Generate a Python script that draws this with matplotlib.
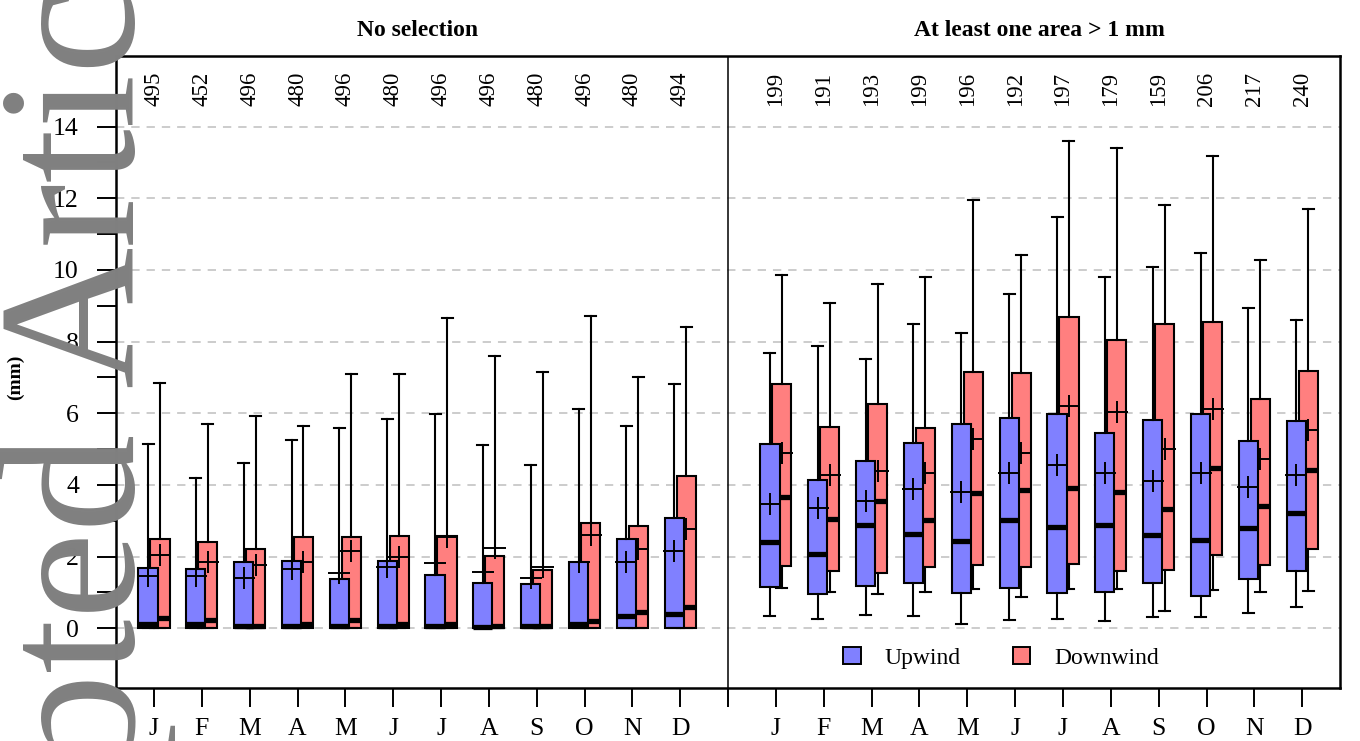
import matplotlib
matplotlib.use("Agg")
import matplotlib.pyplot as plt
from matplotlib.patches import Patch
import numpy as np

plt.rcParams['font.family'] = ['Liberation Serif', 'DejaVu Serif']
plt.rcParams['lines.scale_dashes'] = False

months = ['J', 'F', 'M', 'A', 'M', 'J', 'J', 'A', 'S', 'O', 'N', 'D']
panel_titles = ['No selection', 'At least one area > 1 mm']

# sample counts per month
n_all = [495, 452, 496, 480, 496, 480, 496, 496, 480, 496, 480, 494]
n_sel = [199, 191, 193, 199, 196, 192, 197, 179, 159, 206, 217, 240]

# --- panel 1: no selection (lower quartile and lower whisker are 0) ---
up_all_med = [0.12, 0.12, 0.06, 0.06, 0.06, 0.06, 0.05, 0.04, 0.05, 0.13, 0.33, 0.39]
up_all_q3 = [1.69, 1.64, 1.84, 1.88, 1.37, 1.88, 1.48, 1.27, 1.22, 1.84, 2.48, 3.08]
up_all_mean = [1.45, 1.45, 1.41, 1.64, 1.53, 1.72, 1.83, 1.58, 1.40, 1.85, 1.84, 2.14]
up_all_hi = [5.14, 4.20, 4.62, 5.25, 5.58, 5.85, 5.99, 5.12, 4.56, 6.13, 5.64, 6.81]

dn_all_med = [0.27, 0.22, 0.06, 0.12, 0.22, 0.12, 0.11, 0.06, 0.06, 0.20, 0.46, 0.59]
dn_all_q3 = [2.48, 2.40, 2.20, 2.55, 2.55, 2.57, 2.58, 2.02, 1.62, 2.93, 2.86, 4.25]
dn_all_mean = [2.03, 1.84, 1.75, 1.84, 2.15, 2.00, 2.55, 2.24, 1.71, 2.60, 2.20, 2.76]
dn_all_hi = [6.83, 5.71, 5.93, 5.64, 7.09, 7.10, 8.66, 7.59, 7.14, 8.72, 7.01, 8.41]

# --- panel 2: at least one area > 1 mm ---
up_sel_lo = [0.33, 0.25, 0.37, 0.34, 0.11, 0.24, 0.26, 0.20, 0.30, 0.30, 0.43, 0.60]
up_sel_q1 = [1.15, 0.95, 1.18, 1.25, 0.97, 1.11, 0.97, 1.00, 1.27, 0.91, 1.36, 1.60]
up_sel_med = [2.41, 2.08, 2.88, 2.63, 2.44, 3.01, 2.83, 2.88, 2.60, 2.47, 2.79, 3.22]
up_sel_q3 = [5.13, 4.13, 4.66, 5.17, 5.71, 5.86, 5.99, 5.46, 5.82, 5.97, 5.23, 5.78]
up_sel_mean = [3.46, 3.36, 3.55, 3.89, 3.80, 4.33, 4.56, 4.32, 4.11, 4.33, 3.93, 4.28]
up_sel_hi = [7.68, 7.87, 7.50, 8.50, 8.24, 9.32, 11.47, 9.80, 10.07, 10.47, 8.93, 8.60]

dn_sel_lo = [1.13, 1.01, 0.96, 1.00, 1.08, 0.87, 1.09, 1.08, 0.47, 1.06, 1.01, 1.04]
dn_sel_q1 = [1.73, 1.60, 1.54, 1.71, 1.77, 1.71, 1.79, 1.60, 1.62, 2.05, 1.75, 2.22]
dn_sel_med = [3.67, 3.05, 3.56, 3.02, 3.76, 3.85, 3.92, 3.81, 3.34, 4.47, 3.40, 4.41]
dn_sel_q3 = [6.81, 5.61, 6.27, 5.59, 7.14, 7.13, 8.69, 8.03, 8.48, 8.54, 6.41, 7.18]
dn_sel_mean = [4.88, 4.28, 4.39, 4.33, 5.27, 4.90, 6.21, 6.04, 5.00, 6.12, 4.72, 5.54]
dn_sel_hi = [9.85, 9.08, 9.60, 9.79, 11.94, 10.41, 13.60, 13.40, 11.80, 13.17, 10.27, 11.69]

blue = '#8080ff'
red = '#ff7f7f'


def make_stats(lo, q1, med, q3, hi, mean):
    return [dict(whislo=a, q1=b, med=c, q3=d, whishi=e, mean=f)
            for a, b, c, d, e, f in zip(lo, q1, med, q3, hi, mean)]


zeros = [0.0] * 12
up_stats = make_stats(zeros, zeros, up_all_med, up_all_q3, up_all_hi, up_all_mean) + \
    make_stats(up_sel_lo, up_sel_q1, up_sel_med, up_sel_q3, up_sel_hi, up_sel_mean)
dn_stats = make_stats(zeros, zeros, dn_all_med, dn_all_q3, dn_all_hi, dn_all_mean) + \
    make_stats(dn_sel_lo, dn_sel_q1, dn_sel_med, dn_sel_q3, dn_sel_hi, dn_sel_mean)

pos = np.concatenate([np.arange(1, 13), np.arange(14, 26)])

fig = plt.figure(figsize=(13.6, 7.41), dpi=100)
ax = fig.add_axes([116 / 1360, 1 - 688 / 741, (1340 - 116) / 1360, (688 - 56) / 741])

# red first, blue drawn over it
for stats, off, col, z in [(dn_stats, 0.125, red, 2), (up_stats, -0.125, blue, 3)]:
    ax.bxp(stats, positions=pos + off, widths=0.4, patch_artist=True,
           showmeans=True, showfliers=False, manage_ticks=False, capwidths=0.23,
           boxprops=dict(facecolor=col, edgecolor='black', linewidth=1.5),
           medianprops=dict(color='black', linewidth=3.8, solid_capstyle='butt'),
           whiskerprops=dict(color='black', linewidth=1.5),
           capprops=dict(color='black', linewidth=1.5),
           meanprops=dict(marker='+', markersize=16, markeredgecolor='black',
                          markeredgewidth=1.4),
           zorder=z)

ax.set_xlim(0.206, 25.79)
ax.set_ylim(-1.67, 15.97)

ax.set_yticks(range(0, 15, 2))
ax.set_yticks(range(1, 15, 2), minor=True)
ax.set_xticks(list(pos) + [13])
ax.set_xticklabels(months + months + [''])
ax.tick_params(which='both', direction='out', length=13.7, width=1.4, labelsize=18.5)
ax.tick_params(axis='y', pad=13)
ax.tick_params(axis='x', pad=8)

ax.set_axisbelow(True)
ax.grid(axis='y', which='major', color='#c4c4c4', linewidth=1.2, linestyle=(0, (6, 5)))
ax.axvline(13, color='black', linewidth=1.1, zorder=5)
for s in ax.spines.values():
    s.set_linewidth(1.8)

# titles and counts
for xc, t in zip([6.5, 19.5], panel_titles):
    ax.text(xc, 1.041, t, transform=ax.get_xaxis_transform(), ha='center', va='center',
            fontsize=17, fontweight='bold')
for x, n in zip(pos, n_all + n_sel):
    ax.text(x, 15.05, str(n), rotation=90, ha='center', va='center', fontsize=16.5)

fig.text(15 / 1360, 1 - 377 / 741, '(mm)', rotation=90, ha='center', va='center',
         fontsize=14, fontweight='bold')

handles = [Patch(facecolor=blue, edgecolor='black', linewidth=1.4),
           Patch(facecolor=red, edgecolor='black', linewidth=1.4)]
fig.legend(handles, ['Upwind', 'Downwind'], loc='center', ncol=2, frameon=False,
           bbox_to_anchor=(1001 / 1360, 1 - 658 / 741), fontsize=17,
           handlelength=0.75, handleheight=0.75, columnspacing=2.2, handletextpad=1.0)

# watermark, two words placed separately around the gap at y ~ 410 px
wm = dict(rotation=90, rotation_mode='anchor', va='baseline', fontsize=141,
          color='#808080', zorder=10)
fig.text(132 / 1360, 1 - 432 / 741, 'Accepted', ha='right', **wm)
fig.text(132 / 1360, 1 - 387 / 741, 'Article', ha='left', **wm)

fig.savefig('out.png', dpi=100)
